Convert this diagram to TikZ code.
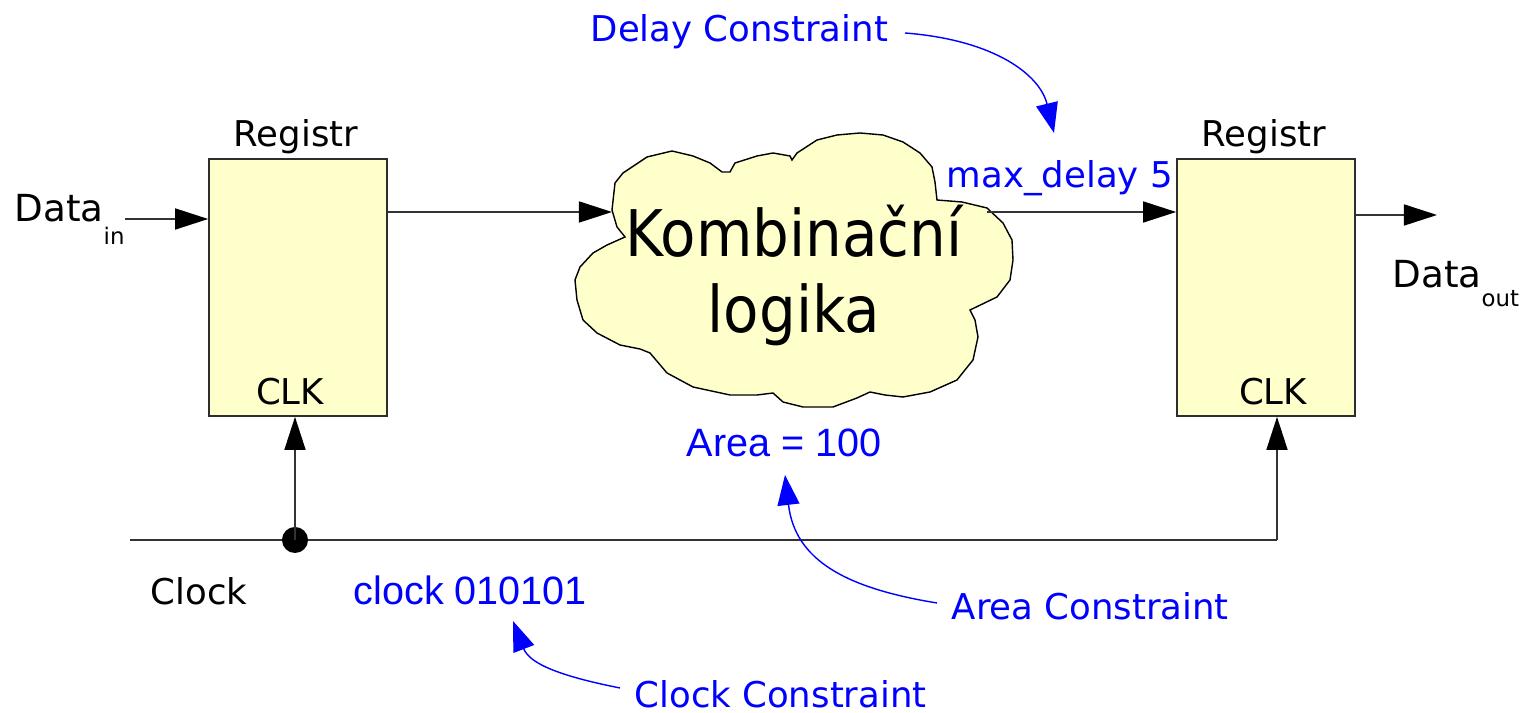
\documentclass[tikz,border=0pt]{standalone}
\usepackage{fontspec}
\setmainfont{DejaVu Sans}
\newfontfamily\arialfont{Liberation Sans}
\newfontfamily\bigfont[FakeStretch=0.9]{DejaVu Sans}
\usetikzlibrary{arrows.meta}
\definecolor{regfill}{RGB}{255,255,204}
\definecolor{cnblue}{RGB}{0,0,255}
\definecolor{edgegray}{RGB}{45,45,45}

\begin{document}
\begin{tikzpicture}[x=0.01cm,y=-0.01cm,
  lbl/.style={anchor=base west,inner sep=0pt,font=\fontsize{10.1}{12}\selectfont},
  blbl/.style={lbl,text=cnblue},
  albl/.style={anchor=base west,inner sep=0pt,text=cnblue,font=\arialfont\fontsize{11.25}{13}\selectfont},
  regbox/.style={draw=edgegray,fill=regfill,line width=0.45pt,minimum width=1.78cm,minimum height=2.57cm,inner sep=0pt},
  wire/.style={draw=black!80,line width=0.45pt},
  arr/.style={wire,-{Triangle[length=0.33cm,width=0.21cm,color=black]}},
  barr/.style={draw=cnblue,line width=0.4pt,-{Triangle[length=0.30cm,width=0.22cm]}},
  dot/.style={circle,fill=black,minimum size=0.26cm,inner sep=0pt},
]
\useasboundingbox (0,0) rectangle (1520,713);

% registers
\node[regbox] (regL) at (298,287.5) {};
\node[regbox] (regR) at (1266,287.5) {};
\node[lbl,anchor=base] (regLname) at (296,147) {Registr};
\node[lbl,anchor=base] (regRname) at (1264,147) {Registr};
\node[lbl,anchor=base] (clkL) at (290,405) {CLK};
\node[lbl,anchor=base] (clkR) at (1273,405) {CLK};

% combinational logic cloud
\draw[fill=regfill,line width=0.4pt]
  (615,183) -- (623,173) -- (647,157) -- (672,151) -- (693,156) -- (710,163)
  -- (722,172) -- (730,172) -- (735,163) -- (757,156) -- (773,153) -- (790,156)
  -- (792,160) -- (797,153) -- (817,140) -- (837,135) -- (860,133) -- (883,135)
  -- (903,142) -- (920,153) -- (932,167) -- (935,182) -- (937,200) -- (962,202)
  -- (987,208) -- (1003,223) -- (1012,240) -- (1013,260) -- (1010,280)
  -- (997,297) -- (970,310) -- (975,320) -- (978,337) -- (973,360) -- (957,380)
  -- (930,392) -- (903,397) -- (885,395) -- (870,392) -- (857,398) -- (833,407)
  -- (803,407) -- (783,402) -- (773,393) -- (757,395) -- (730,395) -- (693,387)
  -- (667,373) -- (650,353) -- (640,349) -- (620,345) -- (597,333) -- (583,320)
  -- (577,300) -- (575,280) -- (580,267) -- (593,253) -- (607,245) -- (625,237)
  -- (617,227) -- (612,210) -- cycle;
\node[anchor=base,inner sep=0pt,font=\bigfont\fontsize{18.3}{22}\selectfont] (comb1) at (794,257) {Kombinační};
\node[anchor=base,inner sep=0pt,font=\bigfont\fontsize{18.3}{22}\selectfont] (comb2) at (794,333) {logika};
\coordinate (cloudW) at (612,212);
\coordinate (cloudE) at (987,212);

% data path
\node[lbl,font=\fontsize{10.6}{12}\selectfont] (din) at (14,222) {Data\raisebox{-6.5pt}{\fontsize{6.5}{7}\selectfont in}};
\coordinate (dinS) at (125,219);
\draw[arr] (dinS) -- (dinS -| regL.west);
\coordinate (regLout) at (387,212);
\draw[arr] (regLout) -- (cloudW);
\draw[arr] (cloudE) -- (cloudE -| regR.west);
\coordinate (regRout) at (1355,215);
\coordinate (doutE) at (1437,215);
\draw[arr] (regRout) -- (doutE);
\node[lbl,font=\fontsize{10.6}{12}\selectfont] (dout) at (1392,288) {Data\raisebox{-5.4pt}{\fontsize{6.5}{7}\selectfont out}};

% clock distribution
\coordinate (clkS) at (130,540);
\coordinate (clkE) at (1277,540);
\draw[wire] (clkS) -- (clkE);
\draw[arr] (clkE) -- (clkE |- regR.south);
\node[dot] (tap) at (295,540) {};
\draw[arr] (tap.center) -- (tap.center |- regL.south);
\node[lbl] (clkname) at (150,605) {Clock};

% constraints
\node[blbl] (maxd) at (946,188) {max\_delay 5};
\node[albl] (area) at (686,457) {Area = 100};
\node[albl] (clkseq) at (353,605) {clock 010101};
\node[blbl] (dcon) at (590,42) {Delay Constraint};
\node[blbl] (acon) at (951,620) {Area Constraint};
\node[blbl] (ccon) at (634,708) {Clock Constraint};

\coordinate (dconS) at (905,33);
\coordinate (dconT) at (1054,133);
\draw[barr] (dconS) .. controls (995,40) and (1040,75) .. (dconT);
\coordinate (aconS) at (937,603);
\coordinate (aconT) at (785,475);
\draw[barr] (aconS) .. controls (845,588) and (795,560) .. (aconT);
\coordinate (cconS) at (620,688);
\coordinate (cconT) at (513,621);
\draw[barr] (cconS) .. controls (565,677) and (530,665) .. (cconT);
\end{tikzpicture}
\end{document}
